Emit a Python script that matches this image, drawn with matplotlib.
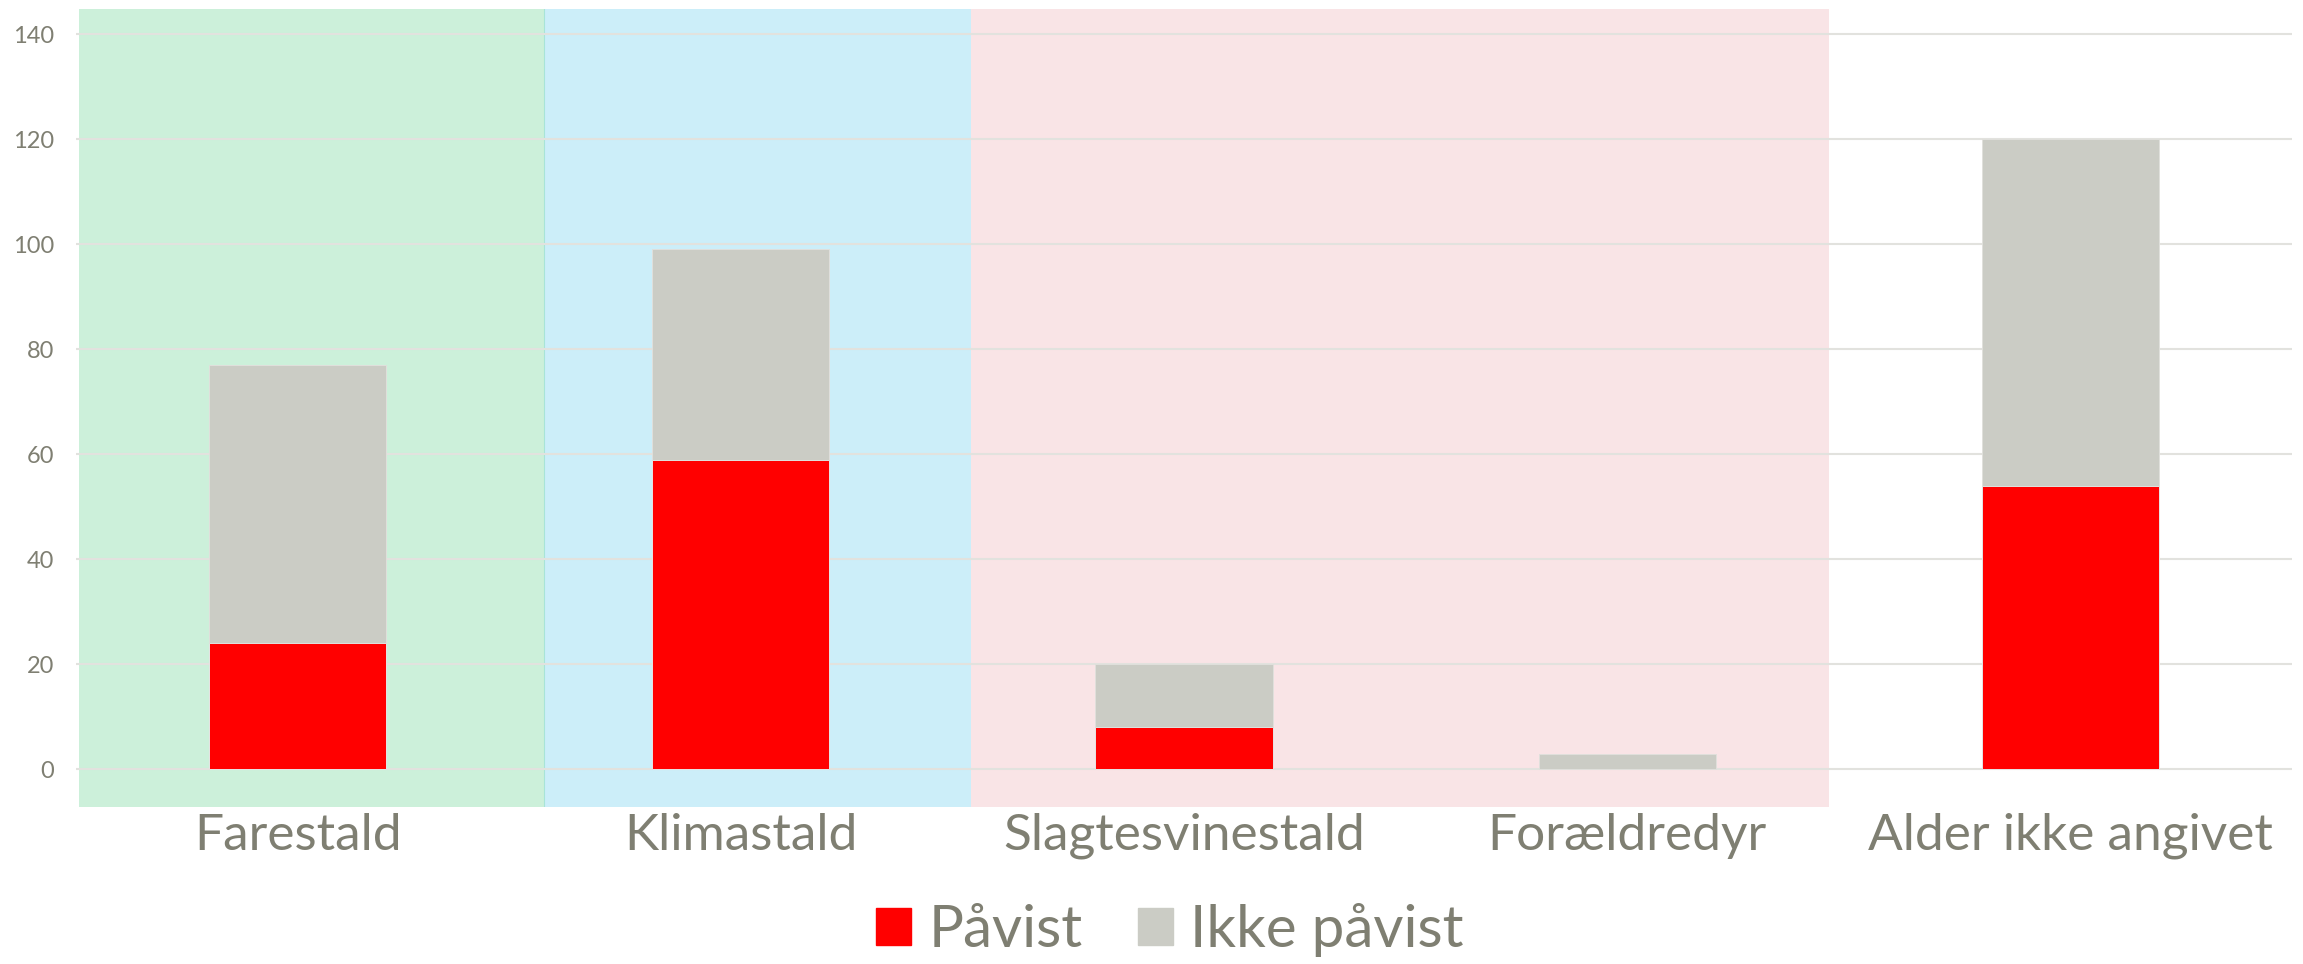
import numpy as np
import matplotlib
matplotlib.use('agg')
import matplotlib.pyplot as plt
from matplotlib.patches import Patch

# data
categories = ['Farestald', 'Klimastald', 'Slagtesvinestald', 'Forældredyr', 'Alder ikke angivet']
pavist = [24, 59, 8, 0, 54]
ikke_pavist = [53, 40, 12, 3, 66]
series_names = ['Påvist', 'Ikke påvist']
yticks = [0, 20, 40, 60, 80, 100, 120, 140]

# background bands (x span in category units)
bands = [(-0.493, 0.556, '#CCF0DA'),
         (0.556, 1.519, '#CCEEF9'),
         (1.519, 3.455, '#F9E4E6')]

txt = '#7F7F72'
red = '#FF0000'
grey = '#CBCCC5'

plt.rcParams['font.family'] = ['Lato', 'DejaVu Sans']

fig = plt.figure(figsize=(23.03, 9.64), dpi=100)
ax = fig.add_axes([76/2303, 157/964, (2292-76)/2303, 798/964])

for x0, x1, c in bands:
    ax.axvspan(x0, x1, color=c, lw=0, zorder=0)
ax.axvline(0.556, color='#A8E4D8', lw=0.8, zorder=0.5)

x = np.arange(len(categories))
ax.bar(x, pavist, width=0.4, color=red, edgecolor='#E6E6E6', linewidth=0.7, zorder=3)
ax.bar(x, ikke_pavist, width=0.4, bottom=pavist, color=grey, edgecolor='#E0E0DC', linewidth=0.7, zorder=3)

ax.set_xlim(-0.5, 4.5)
ax.set_ylim(-7.18, 144.8)
ax.set_yticks(yticks)
ax.yaxis.grid(True, color='#E2E2DE', lw=1.5, zorder=1)
ax.set_axisbelow(True)
ax.set_xticks(x)
ax.set_xticklabels(categories, fontsize=37, color=txt)
ax.tick_params(axis='x', length=0, pad=4)
ax.tick_params(axis='y', length=0, pad=16, labelsize=17, labelcolor=txt)
for s in ax.spines.values():
    s.set_visible(False)

handles = [Patch(color=red, label=series_names[0]), Patch(color=grey, label=series_names[1])]
leg = fig.legend(handles=handles, loc='center', bbox_to_anchor=(0.508, 0.035), ncol=2,
                 frameon=False, fontsize=42, handlelength=0.6, handleheight=0.6,
                 handletextpad=0.3, columnspacing=0.95)
for t in leg.get_texts():
    t.set_color(txt)

fig.savefig('out.png', dpi=100)
